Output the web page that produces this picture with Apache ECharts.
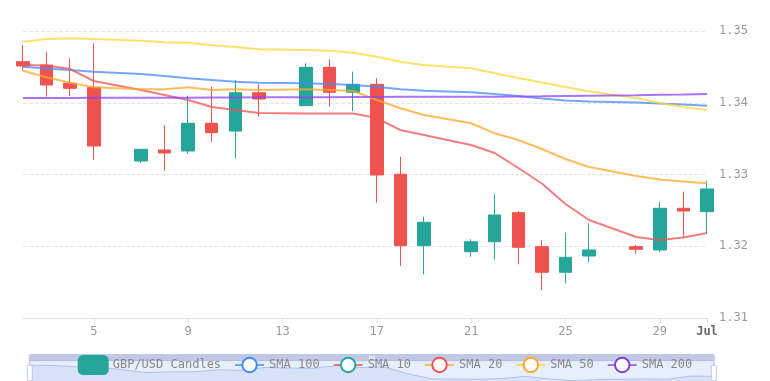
<!DOCTYPE html>
<html>
<head>
<meta charset="utf-8">
<script src="https://cdn.jsdelivr.net/npm/echarts@6/dist/echarts.min.js"></script>
<style>html,body{margin:0;padding:0;background:#fff;}#c{width:770px;height:381px;}</style>
</head>
<body>
<div id="c"></div>
<script>
const dates = ['2025-06-02','2025-06-03','2025-06-04','2025-06-05','2025-06-07','2025-06-08','2025-06-09','2025-06-10','2025-06-11','2025-06-12','2025-06-14','2025-06-15','2025-06-16','2025-06-17','2025-06-18','2025-06-19','2025-06-21','2025-06-22','2025-06-23','2025-06-24','2025-06-25','2025-06-26','2025-06-28','2025-06-29','2025-06-30','2025-07-01'];
const opens  = [1.34572,1.34526,1.34271,1.34215,1.33188,1.33342,1.33328,1.33714,1.33606,1.34140,1.33959,1.34494,1.34146,1.34257,1.33003,1.32008,1.31924,1.32063,1.32468,1.31994,1.31637,1.31864,1.31994,1.31948,1.32529,1.32482];
const closes = [1.34512,1.34247,1.34201,1.33397,1.33351,1.33300,1.33714,1.33583,1.34140,1.34052,1.34494,1.34146,1.34257,1.32993,1.32008,1.32334,1.32063,1.32436,1.31985,1.31637,1.31846,1.31948,1.31958,1.32529,1.32491,1.32798];
const lows   = [1.34447,1.34084,1.34094,1.33202,1.33160,1.33053,1.33286,1.33457,1.33226,1.33806,1.33955,1.33945,1.33885,1.32607,1.31725,1.31609,1.31854,1.31818,1.31749,1.31390,1.31484,1.31776,1.31902,1.31916,1.32125,1.32180];
const highs  = [1.34805,1.34712,1.34620,1.34829,1.33358,1.33690,1.34098,1.34224,1.34317,1.34257,1.34550,1.34606,1.34433,1.34341,1.33248,1.32412,1.32097,1.32724,1.32491,1.32087,1.32189,1.32320,1.32017,1.32621,1.32760,1.32914];
const sma10  = [1.34526,1.34519,1.34470,1.34303,1.34178,1.34108,1.34038,1.33941,1.33899,1.33857,1.33850,1.33850,1.33850,1.33787,1.33620,1.33551,1.33411,1.33300,1.33091,1.32875,1.32589,1.32366,1.32129,1.32087,1.32122,1.32185];
const sma20  = [1.34447,1.34355,1.34279,1.34215,1.34187,1.34187,1.34215,1.34178,1.34187,1.34178,1.34187,1.34178,1.34164,1.34038,1.33923,1.33829,1.33714,1.33574,1.33481,1.33355,1.33216,1.33105,1.32979,1.32930,1.32902,1.32877];
const sma50  = [1.34851,1.34889,1.34898,1.34889,1.34865,1.34843,1.34837,1.34801,1.34777,1.34746,1.34735,1.34725,1.34698,1.34642,1.34572,1.34526,1.34480,1.34410,1.34345,1.34282,1.34220,1.34157,1.34066,1.33997,1.33941,1.33899];
const sma100 = [1.34502,1.34477,1.34456,1.34433,1.34401,1.34373,1.34341,1.34317,1.34293,1.34279,1.34271,1.34261,1.34247,1.34224,1.34187,1.34168,1.34146,1.34122,1.34094,1.34059,1.34031,1.34017,1.34004,1.33990,1.33976,1.33959];
const sma200 = [1.34066,1.34066,1.34066,1.34068,1.34069,1.34069,1.34071,1.34072,1.34073,1.34075,1.34076,1.34078,1.34079,1.34080,1.34082,1.34082,1.34083,1.34085,1.34087,1.34090,1.34094,1.34098,1.34105,1.34110,1.34115,1.34122];
const yTicks = [1.31, 1.32, 1.33, 1.34, 1.35];

const FONT = 'DejaVu Sans Mono';
const candleData = dates.map((d, i) => [d, opens[i], closes[i], lows[i], highs[i]]);
function lineSeries(name, arr, lineColor, dotColor) {
  return {
    name: name, type: 'line', data: dates.map((d, i) => [d, arr[i]]),
    showSymbol: false, symbol: 'emptyCircle', smooth: false,
    lineStyle: { color: lineColor, width: 2, opacity: 0.75 },
    itemStyle: { color: dotColor },
    z: 3
  };
}
const chart = echarts.init(document.getElementById('c'), null, { renderer: 'canvas' });
chart.setOption({
  animation: false,
  textStyle: { fontFamily: FONT },
  grid: { left: 23, right: 63, top: 31, bottom: 63 },
  legend: {
    bottom: 1, left: 'center', itemWidth: 29, itemHeight: 18, itemGap: 13, z: 10,
    textStyle: { fontFamily: FONT, fontSize: 12, color: '#888' },
    data: ['GBP/USD Candles', 'SMA 100', 'SMA 10', 'SMA 20', 'SMA 50', 'SMA 200']
  },
  xAxis: {
    type: 'time',
    min: +new Date(2025, 5, 2), max: +new Date(2025, 6, 1),
    axisLine: { lineStyle: { color: '#e0e0e0' } },
    axisTick: { lineStyle: { color: '#e0e0e0' } },
    axisLabel: {
      color: '#999', fontFamily: FONT, fontSize: 12, showMaxLabel: true, showMinLabel: false,
      formatter: { year: '{bold|{yyyy}}', month: '{bold|{MMM}}', day: '{d}' },
      rich: { bold: { fontWeight: 'bold', color: '#666', fontFamily: FONT, fontSize: 12 } }
    },
    splitLine: { show: false }
  },
  yAxis: {
    type: 'value', position: 'right', scale: true,
    min: yTicks[0], max: yTicks[yTicks.length - 1], interval: 0.01,
    axisLine: { show: false }, axisTick: { show: false },
    axisLabel: { color: '#999', fontFamily: FONT, fontSize: 12, margin: 12, formatter: v => v.toFixed(2) },
    splitLine: { lineStyle: { color: '#e6e6e6', type: 'dashed' } }
  },
  dataZoom: [{
    type: 'slider', xAxisIndex: 0, start: 0, end: 100,
    left: 26, right: 58, bottom: 2, height: 25,
    showDetail: false
  }],
  series: [
    {
      name: 'GBP/USD Candles', type: 'candlestick', data: candleData,
      barWidth: 13, clip: false,
      itemStyle: { color: '#26a69a', color0: '#ef5350', borderColor: '#26a69a', borderColor0: '#ef5350' }
    },
    lineSeries('SMA 100', sma100, '#448aff', '#448aff'),
    lineSeries('SMA 10', sma10, '#ef5350', '#26a69a'),
    lineSeries('SMA 20', sma20, '#ffa726', '#ef5350'),
    lineSeries('SMA 50', sma50, '#fdd835', '#ffa726'),
    lineSeries('SMA 200', sma200, '#8e44f0', '#7b3fd6')
  ]
});
</script>
</body>
</html>
